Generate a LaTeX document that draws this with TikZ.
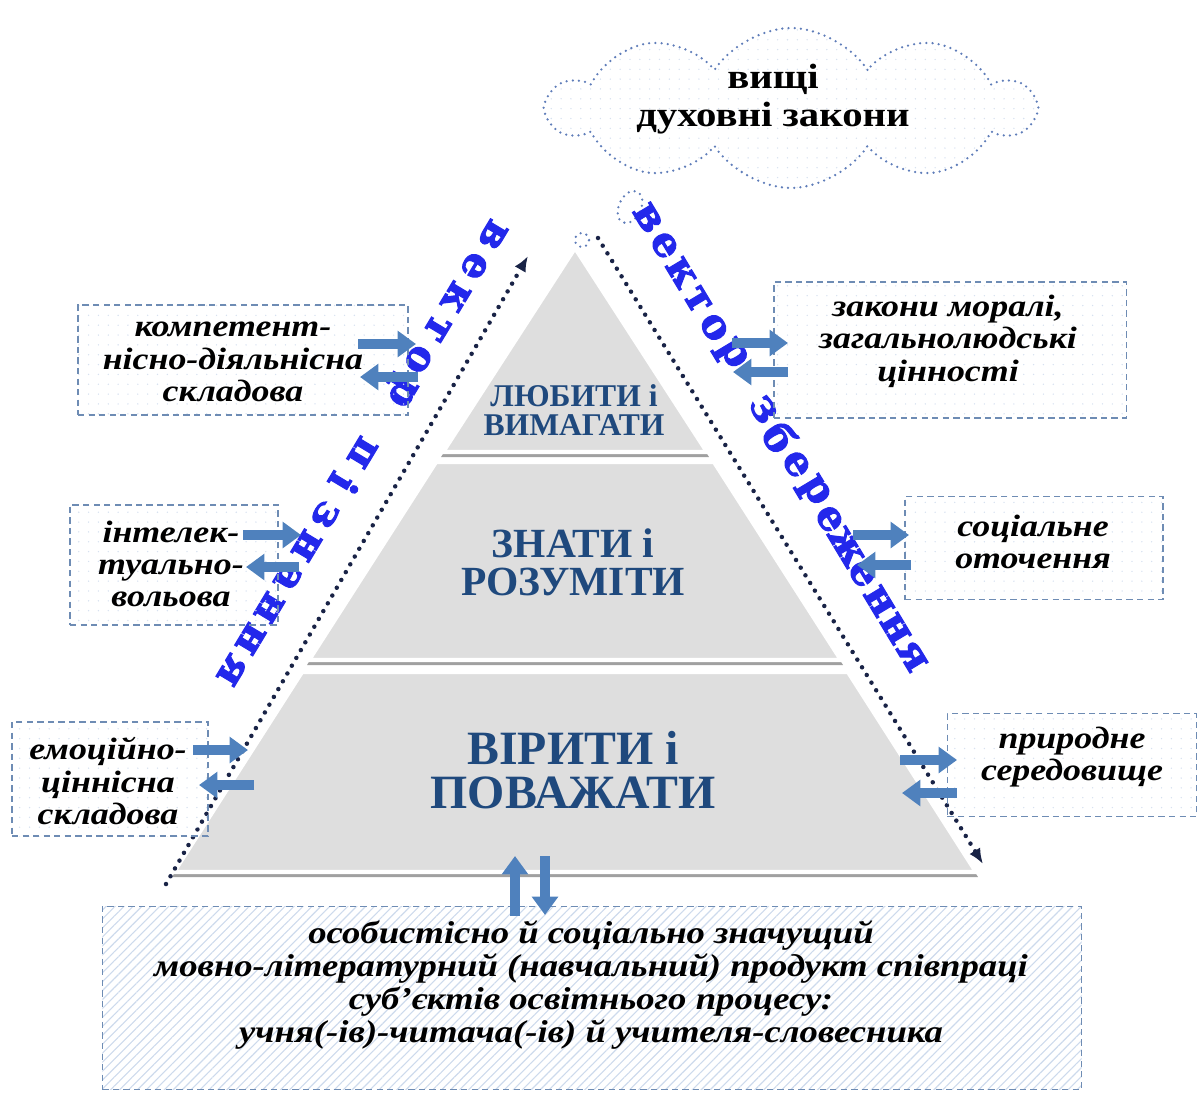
\documentclass[tikz,border=0pt]{standalone}
\usepackage{fontspec}
\setmainfont{Liberation Serif}
\newfontfamily\widefont{Liberation Serif}[FakeStretch=1.16]
\newfontfamily\vecfont{DejaVu Serif}[UprightFeatures={FakeBold=2.5}, BoldFeatures={FakeBold=2.5}]
\usetikzlibrary{arrows.meta,shapes.symbols,shapes.geometric,patterns.meta,calc}
\definecolor{tierblue}{RGB}{31,73,125}
\definecolor{vecblue}{RGB}{35,40,235}
\definecolor{arrowblue}{RGB}{79,129,189}
\definecolor{dotcol}{RGB}{25,35,70}
\definecolor{boxline}{RGB}{110,140,180}
\definecolor{cloudline}{RGB}{95,125,185}
\definecolor{dotfill}{RGB}{215,225,240}
\definecolor{hatchcol}{RGB}{205,218,236}
\definecolor{tiergray}{RGB}{222,222,222}
\definecolor{tiershadow}{RGB}{160,160,160}
\begin{document}
\begin{tikzpicture}[x=0.025cm,y=-0.025cm,
  box/.style={draw=boxline, line width=0.8pt, dash pattern=on 4.5pt off 3pt,
    pattern={Dots[distance=7pt,radius=0.55pt]}, pattern color=dotfill, inner sep=0pt},
  hbox/.style={draw=boxline, line width=0.8pt, dash pattern=on 4.5pt off 3pt,
    pattern={Lines[angle=45,distance=4.5pt,line width=0.8pt]}, pattern color=hatchcol, inner sep=0pt},
  itxt/.style={font=\widefont\fontsize{22}{23}\selectfont\bfseries\itshape, align=center, text=black, inner sep=0pt},
  btxt/.style={font=\widefont\fontsize{22.5}{23.5}\selectfont\bfseries\itshape, align=center, text=black, inner sep=0pt},
  tier/.style={fill=tiergray, draw=white, line width=3pt, line join=round},
  tshadow/.style={fill=tiershadow, draw=none},
  vec/.style={font=\vecfont\bfseries\fontsize{29}{29}\selectfont, text=vecblue, inner sep=0pt},
  dotline/.style={draw=dotcol, line width=3.2pt, dash pattern=on 0pt off 6.4pt, line cap=round,
    -{Latex[length=11pt,width=9pt]}},
  clouddots/.style={draw=cloudline, line width=1.8pt, dash pattern=on 0pt off 4.4pt, line cap=round},
  barrow/.style={draw=arrowblue, line width=6.5pt, -{Triangle[length=13pt,width=18pt]}},
]
\useasboundingbox (0,0) rectangle (1200,1093);

% cloud and bubbles
\node[cloud, cloud puffs=10, cloud puff arc=115, aspect=3, minimum width=12.1cm, minimum height=4.0cm,
  clouddots, pattern={Dots[distance=7pt,radius=0.55pt]}, pattern color=dotfill] (cloud) at (791,108) {};
\node[font=\widefont\fontsize{25}{27}\selectfont\bfseries, align=center, inner sep=0pt] (cloudtxt) at (773,99) {вищі\\духовні закони};
\node[ellipse, clouddots, minimum width=0.55cm, minimum height=0.85cm, rotate=-25] (bub1) at (630,207) {};
\node[ellipse, clouddots, minimum width=0.35cm, minimum height=0.35cm] (bub2) at (582,240) {};

% pyramid tiers
\fill[tshadow] (575,254) -- (709,457) -- (441,457) -- cycle;
\fill[tshadow] (436,467) -- (714,467) -- (843,665) -- (307,665) -- cycle;
\fill[tshadow] (302,677) -- (848,677) -- (978,877) -- (172,877) -- cycle;
\draw[tier] (575,248) -- (707,452) -- (443,452) -- cycle;
\draw[tier] (436,462) -- (714,462) -- (841,660) -- (309,660) -- cycle;
\draw[tier] (302,672) -- (848,672) -- (976,872) -- (174,872) -- cycle;

\node[font=\fontsize{22.5}{20.5}\selectfont\bfseries, text=tierblue, align=center, inner sep=0pt] (t1) at (574,410) {ЛЮБИТИ і\\ВИМАГАТИ};
\node[font=\fontsize{29.5}{27}\selectfont\bfseries, text=tierblue, align=center, inner sep=0pt] (t2) at (573,562) {ЗНАТИ і\\РОЗУМІТИ};
\node[font=\fontsize{34}{31}\selectfont\bfseries, text=tierblue, align=center, inner sep=0pt] (t3) at (573,770) {ВІРИТИ і\\ПОВАЖАТИ};

% dotted vectors
\coordinate (LB) at (166,884);
\coordinate (LT) at (528,256);
\coordinate (RT) at (598,238);
\coordinate (RB) at (983,864);
\draw[dotline] (LB) -- (LT);
\draw[dotline] (RT) -- (RB);

% vector words
\coordinate (L1) at (493,235);
\coordinate (L2) at (232,670);
\foreach \ch [count=\i from 0] in {в,е,к,т,о,р,{},п,і,з,н,а,н,н,я}
  \node[vec, rotate=-121] (lv\i) at ($(L1)!{\i/14}!(L2)$) {\ch};
\coordinate (R1) at (648,218);
\coordinate (R2) at (912,656);
\foreach \ch [count=\i from 0] in {в,е,к,т,о,р,{},з,б,е,р,е,ж,е,н,н,я}
  \node[vec, rotate=-59] (rv\i) at ($(R1)!{\i/16}!(R2)$) {\ch};

% side boxes
\node[box, minimum width=8.25cm, minimum height=2.75cm] (b1) at (243,360) {};
\node[itxt] (b1t) at (233,362) {компетент-\\нісно-діяльнісна\\складова};
\node[box, minimum width=5.2cm, minimum height=3cm] (b2) at (174,565) {};
\node[itxt] (b2t) at (171,564) {інтелек-\\туально-\\вольова};
\node[box, minimum width=4.9cm, minimum height=2.85cm] (b3) at (110,779) {};
\node[itxt] (b3t) at (108,781) {емоційно-\\ціннісна\\складова};
\node[box, minimum width=8.8cm, minimum height=3.4cm] (b4) at (950,350) {};
\node[itxt] (b4t) at (948,341) {закони моралі,\\загальнолюдські\\цінності};
\node[box, minimum width=6.45cm, minimum height=2.575cm] (b5) at (1034,548) {};
\node[itxt] (b5t) at (1033,542) {соціальне\\оточення};
\node[box, minimum width=6.225cm, minimum height=2.575cm] (b6) at (1072,765) {};
\node[itxt] (b6t) at (1072,757) {природне\\середовище};
\node[hbox, minimum width=24.475cm, minimum height=4.575cm] (b7) at (592,998) {};
\node[btxt] (b7t) at (591,985) {особистісно й соціально значущий\\мовно-літературний (навчальний) продукт співпраці\\суб’єктів освітнього процесу:\\учня(-ів)-читача(-ів) й учителя-словесника};

% block arrows
\draw[barrow] (358,344) -- (416,344);
\draw[barrow] (418,377) -- (360,377);
\draw[barrow] (243,535) -- (301,535);
\draw[barrow] (299,567) -- (246,567);
\draw[barrow] (193,750) -- (248,750);
\draw[barrow] (254,785) -- (199,785);
\draw[barrow] (732,343) -- (788,343);
\draw[barrow] (788,372) -- (733,372);
\draw[barrow] (853,535) -- (909,535);
\draw[barrow] (911,565) -- (857,565);
\draw[barrow] (900,760) -- (957,760);
\draw[barrow] (957,793) -- (902,793);
\draw[barrow] (515,916) -- (515,856);
\draw[barrow] (545,856) -- (545,915);
\end{tikzpicture}
\end{document}
